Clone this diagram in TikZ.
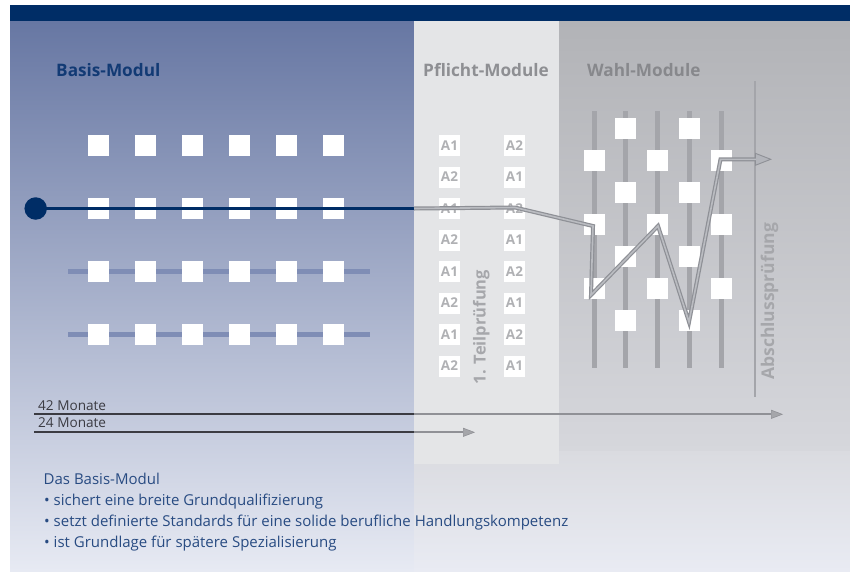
\documentclass[tikz,border=0pt]{standalone}
\usepackage{fontspec}
\setmainfont{Open Sans}
\usetikzlibrary{arrows.meta}
\definecolor{navy}{HTML}{002D66}
\definecolor{bluetop}{HTML}{6777A3}
\definecolor{bluebot}{HTML}{E7EAF3}
\definecolor{graytop}{HTML}{B2B3B7}
\definecolor{graymid}{HTML}{D6D7DC}
\definecolor{graylow}{HTML}{DADBE0}
\definecolor{graybot}{HTML}{E9EBF3}
\definecolor{pflichtbg}{HTML}{E4E5E7}
\definecolor{titleblue}{HTML}{123A74}
\definecolor{titlegray}{HTML}{8E8F93}
\definecolor{agray}{HTML}{B0B1B4}
\definecolor{rotgray}{HTML}{A6A7AB}
\definecolor{rowline}{HTML}{7F8DB5}
\definecolor{barcol}{HTML}{A4A5AA}
\definecolor{pathout}{HTML}{8E9096}
\definecolor{pathin}{HTML}{BABCC1}
\definecolor{darkline}{HTML}{3B3B42}
\definecolor{tlgray}{HTML}{909196}
\definecolor{tlfill}{HTML}{A5A6AA}
\definecolor{bodytext}{HTML}{284B82}
\tikzset{
  sq/.style={fill=white, minimum size=21pt, inner sep=0pt, draw=none},
  abox/.style={fill=white, minimum size=21pt, inner sep=0pt, text=agray, font=\fontsize{13.5}{14}\selectfont\bfseries},
  paneltitle/.style={anchor=base west, inner sep=0pt, font=\fontsize{17.2}{20}\selectfont\bfseries},
  rottitle/.style={rotate=90, anchor=base west, inner sep=0pt, text=rotgray, font=\fontsize{16.5}{18}\selectfont\bfseries},
  rowbar/.style={draw=rowline, line width=5pt},
  wbar/.style={draw=barcol, line width=5pt},
  tltext/.style={anchor=base west, inner sep=0pt, text=darkline, font=\fontsize{13.6}{15}\selectfont},
  body/.style={anchor=base west, inner sep=0pt, text=bodytext, font=\fontsize{15}{17}\selectfont},
}
\begin{document}
\begin{tikzpicture}[x=1pt,y=-1pt]
\useasboundingbox (0,0) rectangle (850,573);
% backgrounds
\shade[top color=bluetop, bottom color=bluebot] (10,21) rectangle (414,571);
\shade[top color=graytop, bottom color=graymid] (414,21) rectangle (850,451);
\shade[top color=graylow, bottom color=graybot] (414,451) rectangle (850,571);
\fill[pflichtbg] (414,21) rectangle (559,463.5);
\fill[navy] (10,5) rectangle (850,21);
% titles
\node[paneltitle, text=titleblue] (tbasis) at (56,76.7) {Basis-Modul};
\node[paneltitle, text=titlegray] (tpflicht) at (423,76.7) {Pflicht-Module};
\node[paneltitle, text=titlegray!95!black] (twahl) at (587,76.7) {Wahl-Module};
% row lines behind basis rows 3 and 4
\coordinate (r3a) at (68,271.5); \coordinate (r3b) at (370,271.5);
\coordinate (r4a) at (68,334.5); \coordinate (r4b) at (370,334.5);
\draw[rowbar] (r3a) -- (r3b);
\draw[rowbar] (r4a) -- (r4b);
% basis squares
\foreach \c in {1,...,6}{
  \foreach \r in {1,...,4}{
    \node[sq] (b\r\c) at ({51.5+47*\c},{82.5+63*\r}) {};
  }
}
% start dot and navy line
\node[circle, fill=navy, minimum size=22.5pt, inner sep=0pt] (dot) at (35.7,208.5) {};
\coordinate (j0) at (414,208.5);
\draw[navy, line width=3.5pt] (dot.center) -- (j0);
% pflicht boxes
\foreach \r/\a/\b in {1/A1/A2,2/A2/A1,3/A1/A2,4/A2/A1,5/A1/A2,6/A2/A1,7/A1/A2,8/A2/A1}{
  \node[abox] (pa\r) at (449.5,{114+31.5*\r}) {\a};
  \node[abox] (pb\r) at (514.5,{114+31.5*\r}) {\b};
}
\node[rottitle] (teil) at (485.5,384.3) {1. Teilprüfung};
% wahl bars
\foreach \i in {0,...,4}{
  \coordinate (wt\i) at ({594+31.8*\i},111);
  \coordinate (wb\i) at ({594+31.8*\i},368);
  \draw[wbar] (wt\i) -- (wb\i);
}
% wahl squares
\foreach \i in {0,2,4}{
  \foreach \r in {0,1,2}{
    \node[sq] (ws\i\r) at ({594+31.8*\i},{160.5+64*\r}) {};
  }
}
\foreach \i in {1,3}{
  \foreach \r in {0,1,2,3}{
    \node[sq] (ws\i\r) at ({594+31.8*\i},{128.5+64*\r}) {};
  }
}
% Abschluss line
\coordinate (aa) at (755,81); \coordinate (ab) at (755,397);
\draw[barcol, line width=2.5pt] (aa) -- (ab);
\node[rottitle, font=\fontsize{17.5}{19}\selectfont\bfseries] (absch) at (774,380) {Abschlussprüfung};
% path
\coordinate (p1) at (515,207.5);
\coordinate (p2) at (593,226);
\coordinate (p3) at (591,295);
\coordinate (p4) at (658,226);
\coordinate (p5) at (689,322);
\coordinate (p6) at (720.5,159.3);
\coordinate (p7) at (756,159.3);
\coordinate (tip) at (772,159.3);
\draw[pathout, line width=4pt, line join=miter, -{Triangle[length=17pt,width=13pt,line width=0.9pt,fill=pathin!85!pathout]}] (j0) -- (p1) -- (p2) -- (p3) -- (p4) -- (p5) -- (p6) -- (tip);
\draw[pathin, line width=1.6pt, line join=miter] (j0) -- (p1) -- (p2) -- (p3) -- (p4) -- (p5) -- (p6) -- (p7);
% timelines
\coordinate (l42a) at (34,414.3); \coordinate (l42b) at (414,414.3); \coordinate (l42c) at (783,414.3);
\coordinate (l24a) at (34,432.3); \coordinate (l24b) at (414,432.3); \coordinate (l24c) at (475,432.3);
\draw[tlgray, line width=2pt, -{Triangle[length=12pt,width=9pt,line width=0.6pt,fill=tlfill]}] (l42b) -- (l42c);
\draw[tlgray, line width=2pt, -{Triangle[length=12pt,width=9pt,line width=0.6pt,fill=tlfill]}] (l24b) -- (l24c);
\draw[darkline, line width=1.8pt] (l42a) -- (l42b);
\draw[darkline, line width=1.8pt] (l24a) -- (l24b);
\node[tltext] (m42) at (38,410.7) {42 Monate};
\node[tltext] (m24) at (38,427.3) {24 Monate};
% body text
\node[body] (bt0) at (43.5,484.3) {Das Basis-Modul};
\node[body] (bt1) at (44,505) {• sichert eine breite Grundqualifizierung};
\node[body] (bt2) at (44,526) {• setzt definierte Standards für eine solide berufliche Handlungskompetenz};
\node[body] (bt3) at (44,547) {• ist Grundlage für spätere Spezialisierung};
\end{tikzpicture}
\end{document}
